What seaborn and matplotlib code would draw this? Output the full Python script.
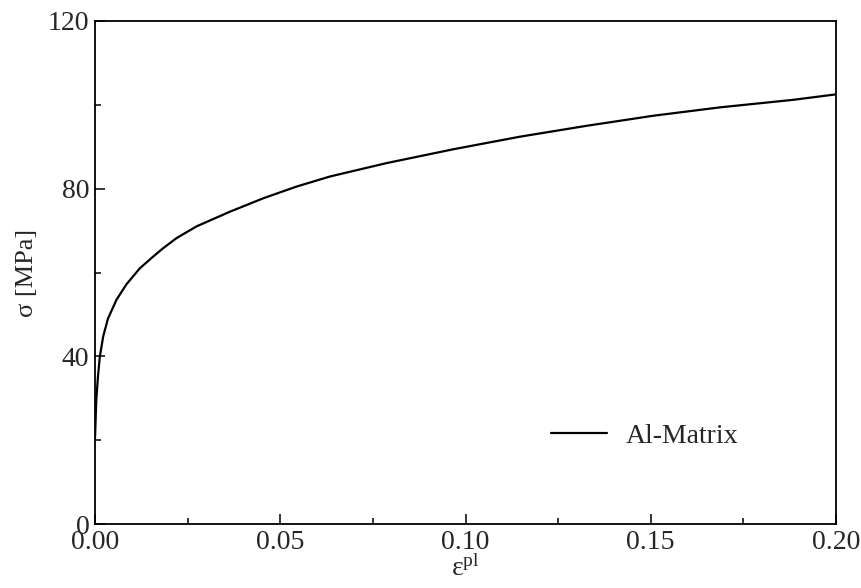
import matplotlib
matplotlib.use("Agg")
import matplotlib.pyplot as plt
import seaborn as sns
import pandas as pd
from matplotlib.ticker import MultipleLocator, FormatStrFormatter

# Data
strain = [0.0, 0.00035, 0.0008, 0.0013, 0.0022, 0.0035, 0.0058, 0.0085,
          0.0121, 0.0157, 0.0184, 0.022, 0.0274, 0.0364, 0.0454, 0.0544,
          0.0634, 0.0787, 0.0967, 0.1147, 0.1327, 0.1507, 0.1687, 0.1885,
          0.2]
stress = [20.5, 29.6, 35.2, 39.9, 44.7, 49.0, 53.5, 57.2,
          61.0, 63.8, 65.8, 68.2, 71.0, 74.5, 77.7, 80.5,
          82.9, 86.1, 89.4, 92.4, 95.0, 97.4, 99.4, 101.2,
          102.5]
series_name = "Al-Matrix"
x_ticks = [0.0, 0.05, 0.10, 0.15, 0.20]
y_ticks = [0, 40, 80, 120]

sns.set_style("ticks")
plt.rcParams["font.family"] = ["Liberation Serif", "DejaVu Serif"]
plt.rcParams["mathtext.fontset"] = "custom"
plt.rcParams["mathtext.rm"] = "Liberation Serif"
plt.rcParams["mathtext.it"] = "Liberation Serif"

df = pd.DataFrame({"strain": strain, "stress": stress, "series": series_name})

fig = plt.figure(figsize=(8.62, 5.88), dpi=100)
ax = fig.add_axes([95/862, 1-524/588, 741/862, 503/588])
sns.lineplot(data=df, x="strain", y="stress", hue="series",
             palette=["black"], linewidth=1.6, ax=ax, sort=False)

ax.set_xlim(0, 0.2)
ax.set_ylim(0, 120)
ax.set_xticks(x_ticks)
ax.set_yticks(y_ticks)
ax.xaxis.set_major_formatter(FormatStrFormatter("%.2f"))
ax.xaxis.set_minor_locator(MultipleLocator(0.025))
ax.yaxis.set_minor_locator(MultipleLocator(20))
ax.tick_params(which="both", direction="in", top=False, right=False,
               labelsize=20, width=1.1, color="black")
ax.tick_params(which="major", length=7, pad=4)
ax.tick_params(which="minor", length=4.5)
for s in ax.spines.values():
    s.set_linewidth(1.3)
    s.set_color("black")

ax.set_xlabel("ε$^{\\mathrm{pl}}$", fontsize=20, labelpad=1)
ax.set_ylabel("σ [MPa]", fontsize=19, labelpad=7)

leg = ax.legend(loc="center", bbox_to_anchor=(0.742, 0.175), frameon=False,
                fontsize=20, handlelength=2.0, handletextpad=0.7)
leg.set_title(None)

fig.savefig("out.png", dpi=100)
